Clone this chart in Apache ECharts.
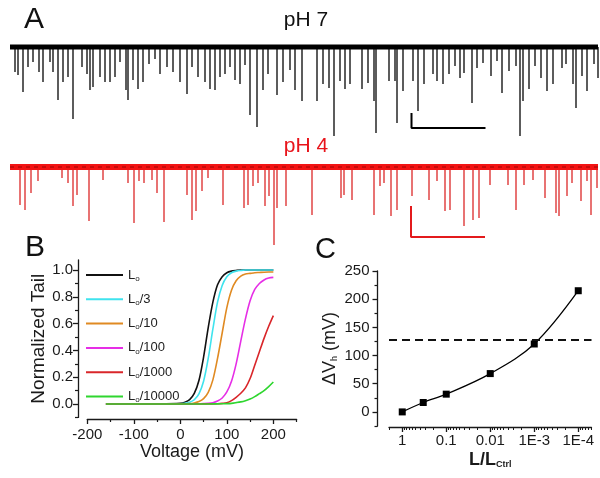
<!DOCTYPE html>
<html>
<head>
<meta charset="utf-8">
<script src="https://cdn.jsdelivr.net/npm/echarts@6/dist/echarts.min.js"></script>
<style>
  html, body { margin: 0; padding: 0; background: #fff; }
  #chart { width: 600px; height: 478px; }
</style>
</head>
<body>
<div id="chart"></div>
<script>
// ---- panel A: single channel traces (baseline = 0, openings drawn downward)
var traceSpan = [10, 598];
var blackSpikeT = [15, 18, 23, 28, 33, 39, 43, 50, 53, 58, 63, 68, 73, 82, 87, 90, 93, 100, 105, 110,
  115, 120, 126, 128, 133, 138, 143, 149, 155, 160, 167, 173, 180, 187, 192, 198, 205, 210, 215, 220,
  225, 230, 235, 240, 245, 250, 257, 263, 268, 277, 283, 290, 295, 302, 317, 323, 329, 334, 340, 345,
  350, 362, 368, 374, 376, 389, 395, 397, 403, 413, 418, 424, 433, 437, 443, 449, 455, 460, 464, 472,
  477, 483, 491, 497, 502, 509, 516, 520, 523, 529, 535, 541, 547, 553, 562, 566, 573, 576, 582, 587,
  594, 598];
var blackSpikeD = [25, 28, 45, 20, 15, 25, 35, 15, 25, 53, 35, 30, 72, 20, 27, 43, 40, 30, 35, 35,
  30, 15, 43, 53, 33, 42, 35, 17, 12, 27, 20, 25, 35, 47, 20, 30, 35, 42, 43, 30,
  27, 20, 33, 37, 18, 68, 80, 43, 27, 48, 35, 23, 43, 54, 54, 37, 41, 89, 34, 42,
  37, 42, 36, 54, 86, 34, 34, 76, 44, 34, 64, 37, 27, 34, 37, 27, 19, 31, 26, 56,
  21, 16, 29, 14, 46, 24, 19, 89, 54, 42, 19, 31, 44, 37, 21, 17, 37, 61, 29, 44,
  17, 31];
var redSpikeT = [20, 25, 31, 38, 62, 68, 73, 77, 89, 103, 128, 134, 139, 144, 152, 157, 164, 187, 192, 196,
  202, 208, 223, 244, 248, 253, 258, 265, 269, 274, 277, 286, 312, 341, 344, 352, 374, 380, 384, 391,
  397, 412, 429, 437, 445, 450, 464, 473, 479, 490, 508, 516, 524, 533, 545, 556, 559, 567, 572, 581,
  587, 591, 597];
var redSpikeD = [38, 43, 26, 14, 11, 16, 39, 28, 54, 13, 16, 56, 14, 16, 13, 26, 55, 28, 53, 44,
  24, 11, 38, 41, 38, 19, 16, 39, 29, 78, 41, 39, 48, 31, 28, 33, 48, 19, 16, 49,
  43, 29, 33, 14, 44, 43, 59, 53, 51, 18, 18, 43, 18, 13, 31, 46, 49, 29, 16, 34,
  14, 48, 21];
var barBlackX = [411.5, 485.5], barBlackY = [-66, -81];
var barRedX = [411, 485], barRedY = [-39, -70];

// ---- panel B: normalized tail currents
var bVoltage = [-160, -100, -50, 0, 10, 20, 30, 40, 50, 60, 70, 80, 90, 100, 110, 120, 130, 140, 150, 160, 170, 180, 190, 200];
var bL0 =      [0, 0, 0.001, 0.006, 0.014, 0.033, 0.079, 0.175, 0.35, 0.57, 0.76, 0.89, 0.95, 0.98, 0.992, 0.997, 1, 1, 1, 1, 1, 1, 1, 1];
var bL0_3 =    [0, 0, 0, 0.002, 0.005, 0.013, 0.032, 0.076, 0.17, 0.34, 0.56, 0.76, 0.885, 0.95, 0.98, 0.992, 0.997, 1, 1, 1, 1, 1, 1, 1];
var bL0_10 =   [0, 0, 0, 0.001, 0.002, 0.003, 0.008, 0.018, 0.04, 0.087, 0.18, 0.34, 0.53, 0.72, 0.85, 0.92, 0.955, 0.97, 0.975, 0.98, 0.982, 0.984, 0.985, 0.985];
var bL0_100 =  [0, 0, 0, 0, 0, 0.001, 0.001, 0.002, 0.003, 0.005, 0.01, 0.022, 0.045, 0.09, 0.17, 0.3, 0.47, 0.635, 0.77, 0.855, 0.9, 0.926, 0.94, 0.945];
var bL0_1000 = [0, 0, 0, 0, 0, 0, 0, 0, 0.001, 0.001, 0.001, 0.002, 0.005, 0.01, 0.025, 0.05, 0.08, 0.12, 0.19, 0.29, 0.39, 0.49, 0.58, 0.66];
var bL0_1e4 =  [0, 0, 0, 0, 0, 0, 0, 0, 0, 0, 0.001, 0.001, 0.002, 0.003, 0.005, 0.01, 0.016, 0.025, 0.037, 0.055, 0.077, 0.1, 0.13, 0.164];
var bNames = ['L0', 'L0/3', 'L0/10', 'L0/100', 'L0/1000', 'L0/10000'];
var bColors = ['#111111', '#3fe3ee', '#e08a22', '#e62ee6', '#d9262a', '#2fd62f'];
var bXTicks = [-200, -100, 0, 100, 200], bXMinor = [-150, -50, 50, 150, 250];
var bYTicks = [0, 0.2, 0.4, 0.6, 0.8, 1.0], bYMinor = [-0.1, 0.1, 0.3, 0.5, 0.7, 0.9];

// ---- panel C: shift of V1/2 vs L/Lctrl
var cRatio = [1, 1 / 3, 0.1, 0.01, 0.001, 0.0001];
var cShift = [0, 16.7, 31.5, 68, 120.5, 215];
var cThreshold = 127.6;
var cTickRatio = [1, 0.1, 0.01, 0.001, 0.0001];
var cTickText = ['1', '0.1', '0.01', '1E-3', '1E-4'];
var cMinorRatio = [2, 0.9, 0.8, 0.7, 0.6, 0.5, 0.4, 0.3, 0.2, 0.09, 0.08, 0.07, 0.06, 0.05, 0.04, 0.03, 0.02,
  0.009, 0.008, 0.007, 0.006, 0.005, 0.004, 0.003, 0.002, 0.0009, 0.0008, 0.0007, 0.0006, 0.0005, 0.0004,
  0.0003, 0.0002, 0.00009, 0.00008, 0.00007, 0.00006, 0.00005];
var cYTicks = [0, 50, 100, 150, 200, 250], cYMinor = [-25, 25, 75, 125, 175, 225];

var FONT = "'Liberation Sans', Arial, sans-serif";
var INK = '#1a1a1a';

function lg(r) { return -Math.log10(r); }
function pairs(xs, ys) { return xs.map(function (x, i) { return [x, ys[i]]; }); }
function spikes(ts, ds) { return ts.map(function (t, i) { return [t, -ds[i]]; }); }

var chart = echarts.init(document.getElementById('chart'));

var hiddenX = { type: 'value', min: 0, max: 600, show: false };
var hiddenY = { type: 'value', min: -95, max: 7, show: false };
var tickLabel = { fontFamily: FONT, fontSize: 15, color: INK };

var curves = [bL0, bL0_3, bL0_10, bL0_100, bL0_1000, bL0_1e4];

var series = [
  // trace pH 7
  { type: 'bar', xAxisIndex: 0, yAxisIndex: 0, barWidth: 1.5, data: spikes(blackSpikeT, blackSpikeD),
    itemStyle: { color: '#262626' }, silent: true },
  { type: 'line', xAxisIndex: 0, yAxisIndex: 0, data: [[traceSpan[0], 0], [traceSpan[1], 0]],
    symbol: 'none', lineStyle: { color: '#000', width: 5 }, silent: true },
  { type: 'line', xAxisIndex: 0, yAxisIndex: 0,
    data: [[barBlackX[0], barBlackY[0]], [barBlackX[0], barBlackY[1]], [barBlackX[1], barBlackY[1]]],
    symbol: 'none', lineStyle: { color: '#000', width: 2 }, silent: true },
  // trace pH 4
  { type: 'bar', xAxisIndex: 1, yAxisIndex: 1, barWidth: 1.5, data: spikes(redSpikeT, redSpikeD),
    itemStyle: { color: '#e04444' }, silent: true },
  { type: 'line', xAxisIndex: 1, yAxisIndex: 1, data: [[traceSpan[0], 0], [traceSpan[1], 0]],
    symbol: 'none', lineStyle: { color: '#f21414', width: 6 }, silent: true },
  { type: 'line', xAxisIndex: 1, yAxisIndex: 1, data: [[traceSpan[0], 0], [traceSpan[1], 0]],
    symbol: 'none', lineStyle: { color: '#7a0000', width: 1, type: [4, 4], opacity: 0.7 }, silent: true },
  { type: 'line', xAxisIndex: 1, yAxisIndex: 1,
    data: [[barRedX[0], barRedY[0]], [barRedX[0], barRedY[1]], [barRedX[1], barRedY[1]]],
    symbol: 'none', lineStyle: { color: '#e31a1c', width: 2 }, silent: true }
];

curves.forEach(function (vals, i) {
  series.push({
    name: bNames[i], type: 'line', xAxisIndex: 2, yAxisIndex: 2,
    data: pairs(bVoltage, vals), smooth: 0.3, symbol: 'none',
    lineStyle: { color: bColors[i], width: 1.6 }, itemStyle: { color: bColors[i] }
  });
});

series.push({
  type: 'line', xAxisIndex: 4, yAxisIndex: 4,
  data: pairs(cRatio.map(lg), cShift), smooth: 0.35,
  symbol: 'rect', symbolSize: 7,
  lineStyle: { color: '#000', width: 1.3 }, itemStyle: { color: '#000' },
  markLine: {
    silent: true, symbol: 'none', label: { show: false },
    lineStyle: { color: '#111', width: 2, type: [8, 5] },
    data: [{ yAxis: cThreshold }]
  }
});

chart.setOption({
  animation: false,
  backgroundColor: '#fff',
  textStyle: { fontFamily: FONT },
  grid: [
    { left: 0, width: 600, top: 40, height: 102 },
    { left: 0, width: 600, top: 160, height: 102 },
    { left: 87.3, right: 303.4, top: 260, bottom: 60.6 },
    { left: 389, right: 8.5, top: 271, bottom: 52 }
  ],
  xAxis: [
    Object.assign({ gridIndex: 0 }, hiddenX),
    Object.assign({ gridIndex: 1 }, hiddenX),
    { gridIndex: 2, type: 'value', position: 'bottom', min: -200, max: 250, offset: 1.6,
      axisLine: { onZero: false, lineStyle: { color: INK, width: 1.3 } },
      axisTick: { customValues: bXTicks, length: 5, lineStyle: { color: INK, width: 1.3 } },
      axisLabel: Object.assign({ customValues: bXTicks, margin: 8 }, tickLabel),
      splitLine: { show: false },
      name: 'Voltage (mV)', nameLocation: 'middle', nameGap: 21,
      nameTextStyle: { fontFamily: FONT, fontSize: 18, color: INK } },
    { gridIndex: 2, type: 'value', position: 'bottom', min: -200, max: 250, offset: 1.6,
      axisLine: { show: false, onZero: false }, axisLabel: { show: false }, splitLine: { show: false },
      axisTick: { customValues: bXMinor, length: 3, lineStyle: { color: INK, width: 1.2 } } },
    { gridIndex: 3, type: 'value', position: 'bottom', min: lg(2), max: lg(0.00005), offset: 1,
      axisLine: { onZero: false, lineStyle: { color: INK, width: 1.3 } },
      axisTick: { customValues: cTickRatio.map(lg), length: 5, lineStyle: { color: INK, width: 1.3 } },
      axisLabel: Object.assign({ customValues: cTickRatio.map(lg), margin: 6,
        formatter: function (v) {
          var k = cTickRatio.map(lg).findIndex(function (t) { return Math.abs(t - v) < 1e-6; });
          return k >= 0 ? cTickText[k] : '';
        } }, tickLabel),
      splitLine: { show: false },
      name: 'L/L{sub|Ctrl}', nameLocation: 'middle', nameGap: 24,
      nameTextStyle: { fontFamily: FONT, fontSize: 18, fontWeight: 'bold', color: INK,
        rich: { sub: { fontFamily: FONT, fontSize: 9, color: INK, padding: [9, 0, 0, 0] } } } },
    { gridIndex: 3, type: 'value', position: 'bottom', min: lg(2), max: lg(0.00005), offset: 1,
      axisLine: { show: false, onZero: false }, axisLabel: { show: false }, splitLine: { show: false },
      axisTick: { customValues: cMinorRatio.map(lg), length: 3, lineStyle: { color: INK, width: 1 } } }
  ],
  yAxis: [
    Object.assign({ gridIndex: 0 }, hiddenY),
    Object.assign({ gridIndex: 1 }, hiddenY),
    { gridIndex: 2, type: 'value', position: 'left', min: -0.1, max: 1.075, offset: 9.3,
      axisLine: { show: true, onZero: false, lineStyle: { color: INK, width: 1.3 } },
      axisTick: { show: true, customValues: bYTicks, length: 5, lineStyle: { color: INK, width: 1.3 } },
      axisLabel: Object.assign({ customValues: bYTicks, margin: 5,
        formatter: function (v) { return v.toFixed(1); } }, tickLabel),
      splitLine: { show: false },
      name: 'Normalized Tail', nameLocation: 'middle', nameRotate: 90, nameGap: 30,
      nameTextStyle: { fontFamily: FONT, fontSize: 19, color: INK } },
    { gridIndex: 2, type: 'value', position: 'left', min: -0.1, max: 1.075, offset: 9.3,
      axisLine: { show: false, onZero: false }, axisLabel: { show: false }, splitLine: { show: false },
      axisTick: { show: true, customValues: bYMinor, length: 3, lineStyle: { color: INK, width: 1.2 } } },
    { gridIndex: 3, type: 'value', position: 'left', min: -25, max: 250, offset: 11.5,
      axisLine: { show: true, onZero: false, lineStyle: { color: INK, width: 1.3 } },
      axisTick: { show: true, customValues: cYTicks, length: 5, lineStyle: { color: INK, width: 1.3 } },
      axisLabel: Object.assign({ customValues: cYTicks, margin: 8 }, tickLabel),
      splitLine: { show: false },
      name: '\u0394V{sub|h} (mV)', nameLocation: 'middle', nameRotate: 90, nameGap: 38,
      nameTextStyle: { fontFamily: FONT, fontSize: 18, color: INK,
        rich: { sub: { fontFamily: FONT, fontSize: 9, color: INK, padding: [9, 0, 0, 0] } } } },
    { gridIndex: 3, type: 'value', position: 'left', min: -25, max: 250, offset: 11.5,
      axisLine: { show: false, onZero: false }, axisLabel: { show: false }, splitLine: { show: false },
      axisTick: { show: true, customValues: cYMinor, length: 3, lineStyle: { color: INK, width: 1.2 } } }
  ],
  legend: {
    data: bNames, orient: 'vertical', left: 80, top: 263,
    itemWidth: 37, itemHeight: 14, itemGap: 9.8, itemStyle: { opacity: 0 },
    formatter: function (n) { return 'L{s|o}' + n.slice(2); },
    textStyle: { fontFamily: FONT, fontSize: 13, color: '#222', lineHeight: 14,
      rich: { s: { fontFamily: FONT, fontSize: 8, color: '#222', padding: [7, 0, 0, 0] } } }
  },
  graphic: [
    { type: 'text', left: 24, top: 5, style: { text: 'A', font: '30px ' + FONT, fill: '#111' } },
    { type: 'text', left: 25, top: 233, style: { text: 'B', font: '30px ' + FONT, fill: '#111' } },
    { type: 'text', left: 315, top: 235, style: { text: 'C', font: '29px ' + FONT, fill: '#111' } },
    { type: 'text', x: 306, y: 20, style: { text: 'pH 7', font: '21px ' + FONT, fill: '#111', align: 'center', verticalAlign: 'middle' } },
    { type: 'text', x: 306, y: 146, style: { text: 'pH 4', font: '21px ' + FONT, fill: '#e8141b', align: 'center', verticalAlign: 'middle' } }
  ],
  series: series
});
</script>
</body>
</html>
